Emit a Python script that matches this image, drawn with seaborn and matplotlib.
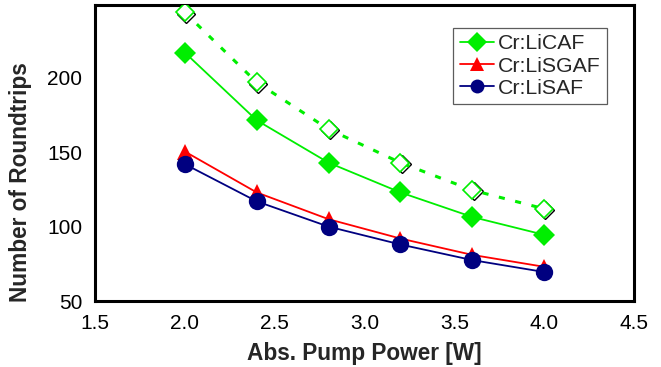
import numpy as np
import pandas as pd
import matplotlib
matplotlib.use("Agg")
import matplotlib.pyplot as plt
import matplotlib.transforms as mtransforms
import seaborn as sns

# Absorbed pump power [W]
power = [2.0, 2.4, 2.8, 3.2, 3.6, 4.0]

# Number of roundtrips per crystal
licaf = [217, 171.5, 143, 123, 106.5, 94.5]
licaf_open = [244, 197, 165.5, 143, 124.5, 112]
lisgaf = [150.5, 123, 105, 92, 81, 73]
lisaf = [142, 117, 100, 88, 77.5, 69.5]

xticks = [1.5, 2.0, 2.5, 3.0, 3.5, 4.0, 4.5]
yticks = [50, 100, 150, 200]

sns.set_theme(style="white")
plt.rcParams["font.family"] = ["Liberation Sans", "DejaVu Sans"]

fig = plt.figure(figsize=(6.61, 3.67), dpi=100)
ax = fig.add_axes([0.1437, 0.1798, 0.8155, 0.8066])

green = "#00ee00"
red = "#ff0000"
navy = "#000080"

# Dashed series with open diamonds and a dark drop shadow
shadow = mtransforms.offset_copy(ax.transData, fig=fig, x=0.9, y=-0.9, units="points")
ax.plot(power, licaf_open, linestyle="none", marker="D", markersize=9.5,
        markerfacecolor="none", markeredgecolor="black", markeredgewidth=1.0,
        transform=shadow, zorder=2)
sns.lineplot(x=power, y=licaf_open, ax=ax, color=green, linewidth=2.2,
             linestyle=(0, (2.0, 3.5)), marker="D", markersize=9.5,
             markerfacecolor="white", markeredgecolor=green, markeredgewidth=1.2,
             zorder=3, label="_nolegend_")

sns.lineplot(x=power, y=licaf, ax=ax, color=green, linewidth=1.3, marker="D",
             markersize=11, markeredgewidth=0, label="Cr:LiCAF", zorder=4)
sns.lineplot(x=power, y=lisgaf, ax=ax, color=red, linewidth=1.3, marker="^",
             markersize=12, markeredgewidth=0, label="Cr:LiSGAF", zorder=4)
sns.lineplot(x=power, y=lisaf, ax=ax, color=navy, linewidth=1.3, marker="o",
             markersize=12.5, markeredgewidth=0, label="Cr:LiSAF", zorder=5)

ax.set_xlim(1.5, 4.5)
ax.set_ylim(50, 249)
ax.set_xticks(xticks)
ax.set_xticklabels([f"{t:.1f}" for t in xticks])
ax.set_yticks(yticks)
ax.set_yticklabels([str(t) for t in yticks])

ax.tick_params(axis="both", which="both", direction="in", labelsize=15,
               colors="black", width=1.3, top=False, right=False)
ax.tick_params(axis="x", length=6.5, pad=9)
ax.tick_params(axis="y", length=5, pad=9)

for side in ax.spines.values():
    side.set_color("black")
    side.set_linewidth(2.2)

ax.set_xlabel("Abs. Pump Power [W]", fontsize=16.3, fontweight="bold", labelpad=7)
ax.set_ylabel("Number of Roundtrips", fontsize=16.3, fontweight="bold")
ax.yaxis.set_label_coords(-0.117, 0.40)

leg = ax.legend(loc="upper right", bbox_to_anchor=(0.95, 0.922), fontsize=15.3,
                frameon=True, fancybox=False, handlelength=1.6,
                handletextpad=0.2, borderpad=0.3, labelspacing=0.15,
                borderaxespad=0.0)
for h in leg.legend_handles:
    h.set_markersize(10)
leg.get_frame().set_edgecolor("#333333")
leg.get_frame().set_linewidth(0.9)

fig.savefig("out.png", dpi=100)
